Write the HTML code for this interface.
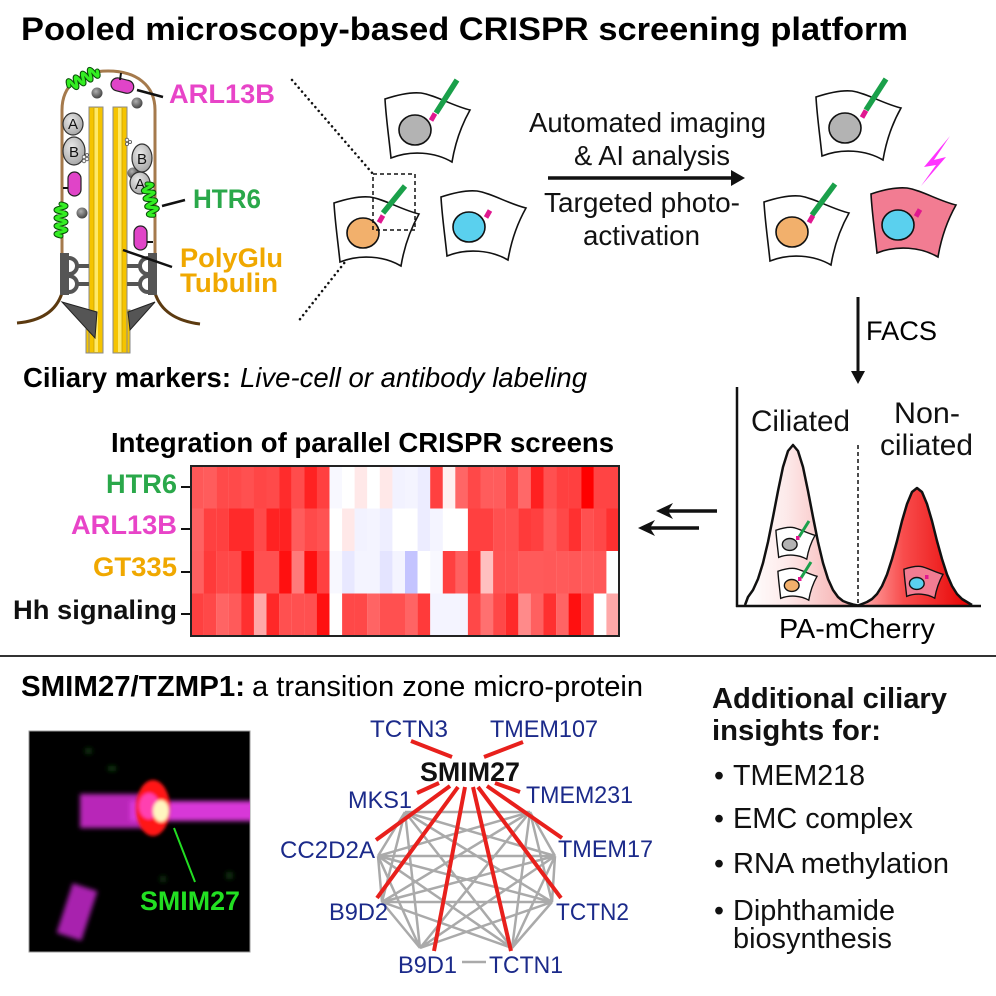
<!DOCTYPE html>
<html><head><meta charset="utf-8"><style>
html,body{margin:0;padding:0;background:#fff;}
svg{display:block;}
text{font-family:"Liberation Sans",Arial,sans-serif;}
</style></head><body>
<svg width="996" height="996" viewBox="0 0 996 996" xmlns="http://www.w3.org/2000/svg">
<defs>
<path id="cellp" d="M2,7 C14,3 28,0 38,1 C52,3 70,14 87,18 C78,34 72,52 69,70 C52,60 28,58 8,66 C6,46 3,26 2,7 Z"/>
<path id="coil" d="M0,0 Q2,-10 4,0 T8,0 T12,0 T16,0 T20,0 T24,0 T28,0 T32,0"/>
<radialGradient id="sph" cx="0.4" cy="0.35" r="0.7"><stop offset="0" stop-color="#b0b0b0"/><stop offset="1" stop-color="#3c3c3c"/></radialGradient>
<radialGradient id="ovg" cx="0.4" cy="0.35" r="0.8"><stop offset="0" stop-color="#e8e8e8"/><stop offset="1" stop-color="#9a9a9a"/></radialGradient>
<linearGradient id="lpk" gradientUnits="userSpaceOnUse" x1="747" y1="0" x2="858" y2="0"><stop offset="0" stop-color="#ffffff"/><stop offset="0.35" stop-color="#fdeaea"/><stop offset="1" stop-color="#f5a6a6"/></linearGradient>
<linearGradient id="rpk" gradientUnits="userSpaceOnUse" x1="858" y1="0" x2="972" y2="0"><stop offset="0" stop-color="#ffb4b4"/><stop offset="0.4" stop-color="#f84c4c"/><stop offset="1" stop-color="#e60000"/></linearGradient>
<filter id="blur" x="-20%" y="-20%" width="140%" height="140%"><feGaussianBlur stdDeviation="2.4"/></filter>
<filter id="blur2" x="-30%" y="-30%" width="160%" height="160%"><feGaussianBlur stdDeviation="1.5"/></filter>
<clipPath id="mc"><rect x="29" y="731" width="221" height="221"/></clipPath>
</defs>

<!-- Title -->
<text x="21" y="40" font-size="32" font-weight="bold" textLength="887" lengthAdjust="spacingAndGlyphs">Pooled microscopy-based CRISPR screening platform</text>

<!-- ===== Cilium diagram ===== -->
<g stroke="#8a8a8a" stroke-width="1">
<rect x="86" y="310" width="4" height="43" fill="#f5c400"/>
<rect x="126" y="310" width="4" height="43" fill="#f5c400"/>
<rect x="89" y="107" width="14" height="246" fill="#f5c400"/>
<rect x="113" y="107" width="14" height="246" fill="#f5c400"/>
</g>
<rect x="94" y="108" width="4" height="244" fill="#ffe966"/>
<rect x="118" y="108" width="4" height="244" fill="#ffe966"/>
<line x1="94" y1="108" x2="94" y2="352" stroke="#c9a000" stroke-width="0.8"/>
<line x1="122" y1="108" x2="122" y2="352" stroke="#c9a000" stroke-width="0.8"/>
<path d="M62,294 L62,110 C62,85 80,71 108,71 C136,71 155,85 155,110 L155,294" fill="none" stroke="#a57a4c" stroke-width="3"/>
<path d="M62,293 C56,312 40,321 17,323" fill="none" stroke="#5c3a10" stroke-width="3"/>
<path d="M155,293 C161,312 177,321 200,324" fill="none" stroke="#5c3a10" stroke-width="3"/>
<g fill="none" stroke="#555" stroke-width="4">
<rect x="60" y="253" width="9" height="42" fill="#555" stroke="none"/>
<rect x="148" y="253" width="9" height="42" fill="#555" stroke="none"/>
<path d="M69,258 A8,8 0 0 1 69,274"/><path d="M69,276 A8,8 0 0 1 69,292"/>
<path d="M148,258 A8,8 0 0 0 148,274"/><path d="M148,276 A8,8 0 0 0 148,292"/>
<line x1="76" y1="266" x2="89" y2="266"/><line x1="76" y1="284" x2="89" y2="284"/>
<line x1="127" y1="266" x2="141" y2="266"/><line x1="127" y1="284" x2="141" y2="284"/>
</g>
<polygon points="62,302 97,312 95,338" fill="#555" stroke="#222" stroke-width="1"/>
<polygon points="155,302 128,312 130,330" fill="#555" stroke="#222" stroke-width="1"/>
<g fill="url(#sph)"><circle cx="97" cy="93" r="5.5"/><circle cx="137" cy="103" r="5.5"/><circle cx="133" cy="173" r="5.5"/><circle cx="82" cy="213" r="5.5"/></g>
<g fill="url(#ovg)" stroke="#333" stroke-width="1.2">
<ellipse cx="73" cy="124" rx="10" ry="11"/><ellipse cx="74" cy="151" rx="11" ry="14"/>
<ellipse cx="142" cy="158" rx="10" ry="14"/><ellipse cx="140" cy="183" rx="10" ry="11"/>
</g>
<g font-size="15" text-anchor="middle" fill="#111">
<text x="73" y="129">A</text><text x="74" y="157">B</text><text x="142" y="164">B</text><text x="140" y="189">A</text>
</g>
<g fill="#f2f2f2" stroke="#555" stroke-width="0.8">
<circle cx="84" cy="157" r="1.8"/><circle cx="87" cy="159" r="1.8"/><circle cx="84" cy="161" r="1.8"/><circle cx="87" cy="155" r="1.5"/>
<circle cx="127" cy="140" r="1.8"/><circle cx="130" cy="142" r="1.6"/><circle cx="127" cy="144" r="1.6"/>
</g>
<g fill="#e044c8" stroke="#222" stroke-width="1.2">
<rect x="111" y="79" width="23" height="13" rx="6.5" transform="rotate(14 122 85)"/>
<rect x="68" y="172" width="13" height="24" rx="6.5"/>
<rect x="134" y="226" width="13" height="24" rx="6.5"/>
</g>
<g stroke="#111" stroke-width="2">
<line x1="120" y1="80" x2="121" y2="73"/><line x1="68" y1="188" x2="63" y2="188"/><line x1="147" y1="242" x2="153" y2="242"/>
</g>
<g fill="none" stroke-linecap="round">
<g transform="translate(69,86) rotate(-28)"><use href="#coil" stroke="#0b4f0b" stroke-width="5"/><use href="#coil" stroke="#33ee22" stroke-width="3"/></g>
<g transform="translate(61,204) rotate(90)"><use href="#coil" stroke="#0b4f0b" stroke-width="5"/><use href="#coil" stroke="#33ee22" stroke-width="3"/></g>
<g transform="translate(147,184) rotate(78)"><use href="#coil" stroke="#0b4f0b" stroke-width="5"/><use href="#coil" stroke="#33ee22" stroke-width="3"/></g>
</g>
<g stroke="#111" stroke-width="2.5">
<line x1="137" y1="90" x2="163" y2="97"/><line x1="162" y1="206" x2="185" y2="200"/><line x1="123" y1="250" x2="172" y2="267"/>
</g>
<g font-weight="bold" font-size="27">
<text x="169" y="103" fill="#e844c8" textLength="106" lengthAdjust="spacingAndGlyphs">ARL13B</text>
<text x="193" y="208" fill="#2aa84a" textLength="68" lengthAdjust="spacingAndGlyphs">HTR6</text>
<text x="180" y="267" fill="#f0a800" textLength="103" lengthAdjust="spacingAndGlyphs">PolyGlu</text>
<text x="180" y="292" fill="#f0a800" textLength="98" lengthAdjust="spacingAndGlyphs">Tubulin</text>
</g>

<g stroke="#111" stroke-width="2.5" stroke-linecap="round" stroke-dasharray="0.1 5">
<line x1="292" y1="80" x2="373" y2="174"/><line x1="360" y1="243" x2="297" y2="323"/>
</g>

<!-- ===== Cells ===== -->
<g stroke="#111" stroke-width="1.6">
<g transform="translate(383,92)"><use href="#cellp" fill="#fff"/><ellipse cx="32" cy="38" rx="16" ry="15" fill="#b3b3b3"/></g>
<g transform="translate(332,196)"><use href="#cellp" fill="#fff"/><ellipse cx="31" cy="37" rx="16" ry="15" fill="#f2b06c"/></g>
<g transform="translate(439,190)"><use href="#cellp" fill="#fff"/><ellipse cx="30" cy="37" rx="16" ry="15" fill="#5ad0ee"/></g>
<g transform="translate(814,90)"><use href="#cellp" fill="#fff"/><ellipse cx="31" cy="38" rx="16" ry="15" fill="#b3b3b3"/></g>
<g transform="translate(762,195)"><use href="#cellp" fill="#fff"/><ellipse cx="30" cy="37" rx="16" ry="15" fill="#f2b06c"/></g>
<g transform="translate(869,187)"><use href="#cellp" fill="#f27c92"/><ellipse cx="29" cy="38" rx="16" ry="15" fill="#5ad0ee"/></g>
</g>
<g stroke="#1aa04a" stroke-width="5.5">
<line x1="436" y1="113" x2="457" y2="80"/><line x1="383" y1="213" x2="405" y2="186"/>
<line x1="866" y1="110" x2="886" y2="79"/><line x1="812" y1="215" x2="835" y2="184"/>
</g>
<g fill="#e01890">
<rect x="-2.5" y="-4" width="5" height="8" transform="translate(433,117) rotate(30)"/>
<rect x="-2.5" y="-4" width="5" height="8" transform="translate(381,219) rotate(30)"/>
<rect x="-2.5" y="-4" width="5" height="8" transform="translate(488,214) rotate(30)"/>
<rect x="-2.5" y="-4" width="5" height="8" transform="translate(864,114) rotate(30)"/>
<rect x="-2.5" y="-4" width="5" height="8" transform="translate(811,219) rotate(30)"/>
<rect x="-2.5" y="-4" width="5" height="8" transform="translate(918,213) rotate(30)"/>
</g>
<rect x="373" y="174" width="42" height="56" fill="none" stroke="#111" stroke-width="1.5" stroke-dasharray="4 3"/>
<polygon points="950,136 924,167 936,165 921,186 946,157 934,160" fill="#ff33ff"/>

<line x1="548" y1="178" x2="734" y2="178" stroke="#111" stroke-width="3.5"/>
<polygon points="731,170 745,178 731,186" fill="#111"/>
<g font-size="27.5" fill="#111">
<text x="529" y="132" textLength="237" lengthAdjust="spacingAndGlyphs">Automated imaging</text>
<text x="574" y="165" textLength="156" lengthAdjust="spacingAndGlyphs">&amp; AI analysis</text>
<text x="544" y="212" textLength="196" lengthAdjust="spacingAndGlyphs">Targeted photo-</text>
<text x="583" y="245" textLength="117" lengthAdjust="spacingAndGlyphs">activation</text>
</g>

<line x1="858" y1="297" x2="858" y2="374" stroke="#111" stroke-width="3"/>
<polygon points="851,371 858,384 865,371" fill="#111"/>
<text x="866" y="340" font-size="27" textLength="71" lengthAdjust="spacingAndGlyphs">FACS</text>

<!-- FACS plot -->
<path d="M742,605 L748,597 L753,590 L758,579 L763,563 L768,542 L773,517 L778,491 L783,467 L788,451 L793,445 L798,451 L803,467 L808,491 L813,517 L818,542 L823,563 L828,579 L833,590 L838,597 L843,601 L848,603 L853,604.5 L858,605.5 Z" fill="url(#lpk)"/>
<path d="M858,605.5 L862,604 L867,602 L872,599 L877,594 L882,586 L887,574.5 L892,559 L897,541 L902,521 L907,504 L912,492 L917,488 L922,492 L927,504 L932,521 L937,541 L942,559 L947,574.5 L952,586 L957,594 L962,599 L967,602 L972,605 Z" fill="url(#rpk)"/>
<path d="M745,605 L748,597 L753,590 L758,579 L763,563 L768,542 L773,517 L778,491 L783,467 L788,451 L793,445 L798,451 L803,467 L808,491 L813,517 L818,542 L823,563 L828,579 L833,590 L838,597 L843,601 L848,603 L853,604.5 L858,605.5 L862,604 L867,602 L872,599 L877,594 L882,586 L887,574.5 L892,559 L897,541 L902,521 L907,504 L912,492 L917,488 L922,492 L927,504 L932,521 L937,541 L942,559 L947,574.5 L952,586 L957,594 L962,599 L967,602 L972,605" fill="none" stroke="#111" stroke-width="2.5" stroke-linejoin="round"/>
<line x1="858" y1="445" x2="858" y2="603" stroke="#111" stroke-width="1.5" stroke-dasharray="4 3"/>
<line x1="737" y1="387" x2="737" y2="607" stroke="#111" stroke-width="2.5"/>
<line x1="736" y1="606" x2="981" y2="606" stroke="#111" stroke-width="2.5"/>
<g stroke="#111" stroke-width="3">
<g transform="translate(775,527) scale(0.46)"><use href="#cellp" fill="#fff"/><ellipse cx="32" cy="38" rx="16" ry="13" fill="#b3b3b3"/></g>
<g transform="translate(777,568) scale(0.46)"><use href="#cellp" fill="#fff"/><ellipse cx="32" cy="38" rx="16" ry="13" fill="#f2b06c"/></g>
<g transform="translate(903,566) scale(0.46)"><use href="#cellp" fill="#f27c92"/><ellipse cx="30" cy="38" rx="16" ry="13" fill="#5ad0ee"/></g>
</g>
<g stroke="#1aa04a" stroke-width="3"><line x1="799" y1="537" x2="809" y2="521"/><line x1="801" y1="578" x2="811" y2="562"/></g>
<g fill="#e01890"><rect x="796" y="536" width="3.5" height="4"/><rect x="798" y="577" width="3.5" height="4"/><rect x="925" y="575" width="3.5" height="4"/></g>
<g font-size="30" fill="#111">
<text x="751" y="431" textLength="99" lengthAdjust="spacingAndGlyphs">Ciliated</text>
<text x="894" y="423" textLength="66" lengthAdjust="spacingAndGlyphs">Non-</text>
<text x="880" y="455" textLength="93" lengthAdjust="spacingAndGlyphs">ciliated</text>
</g>
<text x="779" y="638" font-size="28" textLength="156" lengthAdjust="spacingAndGlyphs">PA-mCherry</text>

<line x1="717" y1="511" x2="664" y2="511" stroke="#111" stroke-width="3.5"/>
<polygon points="656,511 673,503 668,511 673,519" fill="#111"/>
<line x1="699" y1="528" x2="646" y2="528" stroke="#111" stroke-width="3.5"/>
<polygon points="638,528 655,520 650,528 655,536" fill="#111"/>

<text x="23" y="387" font-size="27.5" font-weight="bold" textLength="208" lengthAdjust="spacingAndGlyphs">Ciliary markers:</text>
<text x="240" y="387" font-size="27.5" font-style="italic" textLength="347" lengthAdjust="spacingAndGlyphs">Live-cell or antibody labeling</text>
<text x="111" y="452" font-size="27.5" font-weight="bold" textLength="503" lengthAdjust="spacingAndGlyphs">Integration of parallel CRISPR screens</text>

<g font-size="27" font-weight="bold" text-anchor="end">
<text x="177" y="493" fill="#2aa84a" textLength="71" lengthAdjust="spacingAndGlyphs">HTR6</text>
<text x="177" y="534" fill="#e844c8" textLength="106" lengthAdjust="spacingAndGlyphs">ARL13B</text>
<text x="177" y="576" fill="#f0a800" textLength="84" lengthAdjust="spacingAndGlyphs">GT335</text>
<text x="177" y="619" fill="#111" textLength="164" lengthAdjust="spacingAndGlyphs">Hh signaling</text>
</g>
<g stroke="#111" stroke-width="2"><line x1="181" y1="487" x2="191" y2="487"/><line x1="181" y1="529" x2="191" y2="529"/><line x1="181" y1="572" x2="191" y2="572"/><line x1="181" y1="614" x2="191" y2="614"/></g>

<!-- heatmap -->
<g transform="translate(0,466)">
<rect x="191.0" y="0" width="12.7" height="42.6" fill="#ff5858"/><rect x="203.6" y="0" width="12.7" height="42.6" fill="#ff5c5c"/><rect x="216.2" y="0" width="12.7" height="42.6" fill="#ff4a4a"/><rect x="228.8" y="0" width="12.7" height="42.6" fill="#ff4a4a"/><rect x="241.4" y="0" width="12.7" height="42.6" fill="#ff5050"/><rect x="253.9" y="0" width="12.7" height="42.6" fill="#ff4646"/><rect x="266.5" y="0" width="12.7" height="42.6" fill="#ff4a4a"/><rect x="279.1" y="0" width="12.7" height="42.6" fill="#ff2c2c"/><rect x="291.7" y="0" width="12.7" height="42.6" fill="#ff4c4c"/><rect x="304.3" y="0" width="12.7" height="42.6" fill="#ff2222"/><rect x="316.9" y="0" width="12.7" height="42.6" fill="#ff4040"/><rect x="329.5" y="0" width="12.7" height="42.6" fill="#f8f8ff"/><rect x="342.1" y="0" width="12.7" height="42.6" fill="#ffffff"/><rect x="354.6" y="0" width="12.7" height="42.6" fill="#ffe8e8"/><rect x="367.2" y="0" width="12.7" height="42.6" fill="#ffffff"/><rect x="379.8" y="0" width="12.7" height="42.6" fill="#ffe8e8"/><rect x="392.4" y="0" width="12.7" height="42.6" fill="#f2f2ff"/><rect x="405.0" y="0" width="12.7" height="42.6" fill="#f4f4ff"/><rect x="417.6" y="0" width="12.7" height="42.6" fill="#ececff"/><rect x="430.2" y="0" width="12.7" height="42.6" fill="#ff4040"/><rect x="442.8" y="0" width="12.7" height="42.6" fill="#fff0f0"/><rect x="455.3" y="0" width="12.7" height="42.6" fill="#ff6666"/><rect x="467.9" y="0" width="12.7" height="42.6" fill="#ff4848"/><rect x="480.5" y="0" width="12.7" height="42.6" fill="#ff5c5c"/><rect x="493.1" y="0" width="12.7" height="42.6" fill="#ff5c5c"/><rect x="505.7" y="0" width="12.7" height="42.6" fill="#ff4444"/><rect x="518.3" y="0" width="12.7" height="42.6" fill="#ff6868"/><rect x="530.9" y="0" width="12.7" height="42.6" fill="#ff2020"/><rect x="543.5" y="0" width="12.7" height="42.6" fill="#ff5050"/><rect x="556.1" y="0" width="12.7" height="42.6" fill="#ff4040"/><rect x="568.6" y="0" width="12.7" height="42.6" fill="#ff4040"/><rect x="581.2" y="0" width="12.7" height="42.6" fill="#ff0000"/><rect x="593.8" y="0" width="12.7" height="42.6" fill="#ff4444"/><rect x="606.4" y="0" width="12.6" height="42.6" fill="#ff4444"/>
</g>
<g transform="translate(0,508.5)">
<rect x="191.0" y="0" width="12.7" height="42.6" fill="#ff6262"/><rect x="203.6" y="0" width="12.7" height="42.6" fill="#ff4040"/><rect x="216.2" y="0" width="12.7" height="42.6" fill="#ff4040"/><rect x="228.8" y="0" width="12.7" height="42.6" fill="#ff2a2a"/><rect x="241.4" y="0" width="12.7" height="42.6" fill="#ff2a2a"/><rect x="253.9" y="0" width="12.7" height="42.6" fill="#ff4a4a"/><rect x="266.5" y="0" width="12.7" height="42.6" fill="#ff2222"/><rect x="279.1" y="0" width="12.7" height="42.6" fill="#ff2222"/><rect x="291.7" y="0" width="12.7" height="42.6" fill="#ff5c5c"/><rect x="304.3" y="0" width="12.7" height="42.6" fill="#ff4a4a"/><rect x="316.9" y="0" width="12.7" height="42.6" fill="#ff5252"/><rect x="329.5" y="0" width="12.7" height="42.6" fill="#ffffff"/><rect x="342.1" y="0" width="12.7" height="42.6" fill="#ffe8e8"/><rect x="354.6" y="0" width="12.7" height="42.6" fill="#f2f2ff"/><rect x="367.2" y="0" width="12.7" height="42.6" fill="#f4f4ff"/><rect x="379.8" y="0" width="12.7" height="42.6" fill="#eeeeff"/><rect x="392.4" y="0" width="12.7" height="42.6" fill="#ffffff"/><rect x="405.0" y="0" width="12.7" height="42.6" fill="#ffffff"/><rect x="417.6" y="0" width="12.7" height="42.6" fill="#ececff"/><rect x="430.2" y="0" width="12.7" height="42.6" fill="#f4f4ff"/><rect x="442.8" y="0" width="12.7" height="42.6" fill="#ffffff"/><rect x="455.3" y="0" width="12.7" height="42.6" fill="#ffffff"/><rect x="467.9" y="0" width="12.7" height="42.6" fill="#ff4040"/><rect x="480.5" y="0" width="12.7" height="42.6" fill="#ff4040"/><rect x="493.1" y="0" width="12.7" height="42.6" fill="#ff5050"/><rect x="505.7" y="0" width="12.7" height="42.6" fill="#ff5050"/><rect x="518.3" y="0" width="12.7" height="42.6" fill="#ff3a3a"/><rect x="530.9" y="0" width="12.7" height="42.6" fill="#ff4040"/><rect x="543.5" y="0" width="12.7" height="42.6" fill="#ff5a5a"/><rect x="556.1" y="0" width="12.7" height="42.6" fill="#ff4848"/><rect x="568.6" y="0" width="12.7" height="42.6" fill="#ff3030"/><rect x="581.2" y="0" width="12.7" height="42.6" fill="#ff5050"/><rect x="593.8" y="0" width="12.7" height="42.6" fill="#ff4848"/><rect x="606.4" y="0" width="12.6" height="42.6" fill="#ff3030"/>
</g>
<g transform="translate(0,551)">
<rect x="191.0" y="0" width="12.7" height="42.6" fill="#ff6060"/><rect x="203.6" y="0" width="12.7" height="42.6" fill="#ff3a3a"/><rect x="216.2" y="0" width="12.7" height="42.6" fill="#ff4848"/><rect x="228.8" y="0" width="12.7" height="42.6" fill="#ff4848"/><rect x="241.4" y="0" width="12.7" height="42.6" fill="#ff1010"/><rect x="253.9" y="0" width="12.7" height="42.6" fill="#ff5050"/><rect x="266.5" y="0" width="12.7" height="42.6" fill="#ff5050"/><rect x="279.1" y="0" width="12.7" height="42.6" fill="#ff1010"/><rect x="291.7" y="0" width="12.7" height="42.6" fill="#ff7a7a"/><rect x="304.3" y="0" width="12.7" height="42.6" fill="#ff1010"/><rect x="316.9" y="0" width="12.7" height="42.6" fill="#ff4040"/><rect x="329.5" y="0" width="12.7" height="42.6" fill="#f8f8ff"/><rect x="342.1" y="0" width="12.7" height="42.6" fill="#e8e8ff"/><rect x="354.6" y="0" width="12.7" height="42.6" fill="#f4f4ff"/><rect x="367.2" y="0" width="12.7" height="42.6" fill="#f4f4ff"/><rect x="379.8" y="0" width="12.7" height="42.6" fill="#e4e4ff"/><rect x="392.4" y="0" width="12.7" height="42.6" fill="#f4f4ff"/><rect x="405.0" y="0" width="12.7" height="42.6" fill="#c4c4ff"/><rect x="417.6" y="0" width="12.7" height="42.6" fill="#ffffff"/><rect x="430.2" y="0" width="12.7" height="42.6" fill="#f8f8ff"/><rect x="442.8" y="0" width="12.7" height="42.6" fill="#ff4040"/><rect x="455.3" y="0" width="12.7" height="42.6" fill="#ff6060"/><rect x="467.9" y="0" width="12.7" height="42.6" fill="#ff3030"/><rect x="480.5" y="0" width="12.7" height="42.6" fill="#ffc0c0"/><rect x="493.1" y="0" width="12.7" height="42.6" fill="#ff5252"/><rect x="505.7" y="0" width="12.7" height="42.6" fill="#ff5252"/><rect x="518.3" y="0" width="12.7" height="42.6" fill="#ff5a5a"/><rect x="530.9" y="0" width="12.7" height="42.6" fill="#ff5a5a"/><rect x="543.5" y="0" width="12.7" height="42.6" fill="#ff5858"/><rect x="556.1" y="0" width="12.7" height="42.6" fill="#ff5a5a"/><rect x="568.6" y="0" width="12.7" height="42.6" fill="#ff5858"/><rect x="581.2" y="0" width="12.7" height="42.6" fill="#ff5a5a"/><rect x="593.8" y="0" width="12.7" height="42.6" fill="#ff5858"/><rect x="606.4" y="0" width="12.6" height="42.6" fill="#ffffff"/>
</g>
<g transform="translate(0,593.5)">
<rect x="191.0" y="0" width="12.7" height="42.5" fill="#ff4040"/><rect x="203.6" y="0" width="12.7" height="42.5" fill="#ff4848"/><rect x="216.2" y="0" width="12.7" height="42.5" fill="#ff6464"/><rect x="228.8" y="0" width="12.7" height="42.5" fill="#ff5a5a"/><rect x="241.4" y="0" width="12.7" height="42.5" fill="#ff3030"/><rect x="253.9" y="0" width="12.7" height="42.5" fill="#ffa8a8"/><rect x="266.5" y="0" width="12.7" height="42.5" fill="#ff2828"/><rect x="279.1" y="0" width="12.7" height="42.5" fill="#ff5050"/><rect x="291.7" y="0" width="12.7" height="42.5" fill="#ff5050"/><rect x="304.3" y="0" width="12.7" height="42.5" fill="#ff5050"/><rect x="316.9" y="0" width="12.7" height="42.5" fill="#ff1010"/><rect x="329.5" y="0" width="12.7" height="42.5" fill="#ffffff"/><rect x="342.1" y="0" width="12.7" height="42.5" fill="#ff4848"/><rect x="354.6" y="0" width="12.7" height="42.5" fill="#ff4848"/><rect x="367.2" y="0" width="12.7" height="42.5" fill="#ff6464"/><rect x="379.8" y="0" width="12.7" height="42.5" fill="#ff5050"/><rect x="392.4" y="0" width="12.7" height="42.5" fill="#ff5050"/><rect x="405.0" y="0" width="12.7" height="42.5" fill="#ff6464"/><rect x="417.6" y="0" width="12.7" height="42.5" fill="#ff3a3a"/><rect x="430.2" y="0" width="12.7" height="42.5" fill="#f4f4ff"/><rect x="442.8" y="0" width="12.7" height="42.5" fill="#f4f4ff"/><rect x="455.3" y="0" width="12.7" height="42.5" fill="#f4f4ff"/><rect x="467.9" y="0" width="12.7" height="42.5" fill="#ff4848"/><rect x="480.5" y="0" width="12.7" height="42.5" fill="#ff7070"/><rect x="493.1" y="0" width="12.7" height="42.5" fill="#ff4848"/><rect x="505.7" y="0" width="12.7" height="42.5" fill="#ff2a2a"/><rect x="518.3" y="0" width="12.7" height="42.5" fill="#ff8a8a"/><rect x="530.9" y="0" width="12.7" height="42.5" fill="#ff6060"/><rect x="543.5" y="0" width="12.7" height="42.5" fill="#ff3030"/><rect x="556.1" y="0" width="12.7" height="42.5" fill="#ff6464"/><rect x="568.6" y="0" width="12.7" height="42.5" fill="#ff1010"/><rect x="581.2" y="0" width="12.7" height="42.5" fill="#ff4040"/><rect x="593.8" y="0" width="12.7" height="42.5" fill="#ffffff"/><rect x="606.4" y="0" width="12.6" height="42.5" fill="#ffa8a8"/>
</g>
<rect x="191" y="466" width="428" height="170" fill="none" stroke="#222" stroke-width="2"/>

<line x1="0" y1="656" x2="996" y2="656" stroke="#333" stroke-width="2"/>

<text x="21" y="696" font-size="29" font-weight="bold" textLength="224" lengthAdjust="spacingAndGlyphs">SMIM27/TZMP1:</text>
<text x="252" y="696" font-size="29" textLength="391" lengthAdjust="spacingAndGlyphs">a transition zone micro-protein</text>

<!-- microscopy -->
<rect x="29" y="731" width="221" height="221" fill="#000" stroke="#999" stroke-width="1"/>
<g clip-path="url(#mc)">
<g filter="url(#blur)">
<rect x="80" y="794" width="66" height="34" fill="#b828b8"/>
<rect x="130" y="801" width="125" height="20" fill="#d838d8"/>
<rect x="64" y="886" width="26" height="52" fill="#a820ae" transform="rotate(18 77 912)"/>
<rect x="108" y="766" width="8" height="5" fill="#0c3a0c"/><rect x="85" y="748" width="7" height="6" fill="#0a300a"/>
<rect x="160" y="876" width="6" height="6" fill="#0a300a"/><rect x="226" y="872" width="7" height="7" fill="#0a300a"/>
</g>
<g filter="url(#blur2)">
<ellipse cx="153" cy="808" rx="17" ry="28" fill="#ff1414"/>
<ellipse cx="149" cy="806" rx="10" ry="13" fill="#ff40b0"/>
<ellipse cx="161" cy="811" rx="8" ry="11" fill="#fff6c0"/>
</g>
</g>
<line x1="174" y1="828" x2="195" y2="882" stroke="#22dd22" stroke-width="2"/>
<text x="140" y="910" font-size="27" font-weight="bold" fill="#22e022" textLength="100" lengthAdjust="spacingAndGlyphs">SMIM27</text>

<!-- network -->
<path d="M405,812L530,812M405,812L555,856M405,812L552,902M405,812L512,948M405,812L420,948M405,812L382,902M405,812L378,856M530,812L555,856M530,812L552,902M530,812L512,948M530,812L420,948M530,812L382,902M530,812L378,856M555,856L552,902M555,856L512,948M555,856L420,948M555,856L382,902M555,856L378,856M552,902L512,948M552,902L420,948M552,902L382,902M552,902L378,856M512,948L382,902M512,948L378,856M420,948L382,902M420,948L378,856M382,902L378,856M462,962L486,962" fill="none" stroke="#aaaaaa" stroke-width="2.5"/>
<g stroke="#e8201c" stroke-width="4">
<line x1="411" y1="741" x2="452" y2="757"/><line x1="523" y1="742" x2="484" y2="757"/>
<line x1="417" y1="793" x2="439" y2="783"/><line x1="495" y1="783" x2="520" y2="792"/>
<line x1="376" y1="840" x2="450" y2="786"/><line x1="562" y1="838" x2="487" y2="786"/>
<line x1="377" y1="898" x2="458" y2="787"/><line x1="561" y1="898" x2="478" y2="787"/>
<line x1="434" y1="951" x2="465" y2="787"/><line x1="511" y1="951" x2="473" y2="787"/>
</g>
<g font-size="24" fill="#1b2a8a">
<text x="370" y="737" textLength="78" lengthAdjust="spacingAndGlyphs">TCTN3</text>
<text x="490" y="737" textLength="108" lengthAdjust="spacingAndGlyphs">TMEM107</text>
<text x="348" y="808" textLength="64" lengthAdjust="spacingAndGlyphs">MKS1</text>
<text x="526" y="803" textLength="107" lengthAdjust="spacingAndGlyphs">TMEM231</text>
<text x="280" y="858" textLength="95" lengthAdjust="spacingAndGlyphs">CC2D2A</text>
<text x="558" y="857" textLength="95" lengthAdjust="spacingAndGlyphs">TMEM17</text>
<text x="329" y="920" textLength="59" lengthAdjust="spacingAndGlyphs">B9D2</text>
<text x="556" y="920" textLength="73" lengthAdjust="spacingAndGlyphs">TCTN2</text>
<text x="398" y="973" textLength="59" lengthAdjust="spacingAndGlyphs">B9D1</text>
<text x="489" y="973" textLength="74" lengthAdjust="spacingAndGlyphs">TCTN1</text>
</g>
<text x="420" y="781" font-size="27" font-weight="bold" fill="#111" textLength="100" lengthAdjust="spacingAndGlyphs">SMIM27</text>

<g font-size="29" font-weight="bold" fill="#111">
<text x="712" y="708" textLength="235" lengthAdjust="spacingAndGlyphs">Additional ciliary</text>
<text x="712" y="740" textLength="169" lengthAdjust="spacingAndGlyphs">insights for:</text>
</g>
<g font-size="28.5" fill="#111">
<text x="714" y="785">•</text><text x="733" y="785" textLength="132" lengthAdjust="spacingAndGlyphs">TMEM218</text>
<text x="714" y="828">•</text><text x="733" y="828" textLength="180" lengthAdjust="spacingAndGlyphs">EMC complex</text>
<text x="714" y="873">•</text><text x="733" y="873" textLength="216" lengthAdjust="spacingAndGlyphs">RNA methylation</text>
<text x="714" y="920">•</text><text x="733" y="920" textLength="162" lengthAdjust="spacingAndGlyphs">Diphthamide</text>
<text x="733" y="948" textLength="159" lengthAdjust="spacingAndGlyphs">biosynthesis</text>
</g>
</svg>
</body></html>
